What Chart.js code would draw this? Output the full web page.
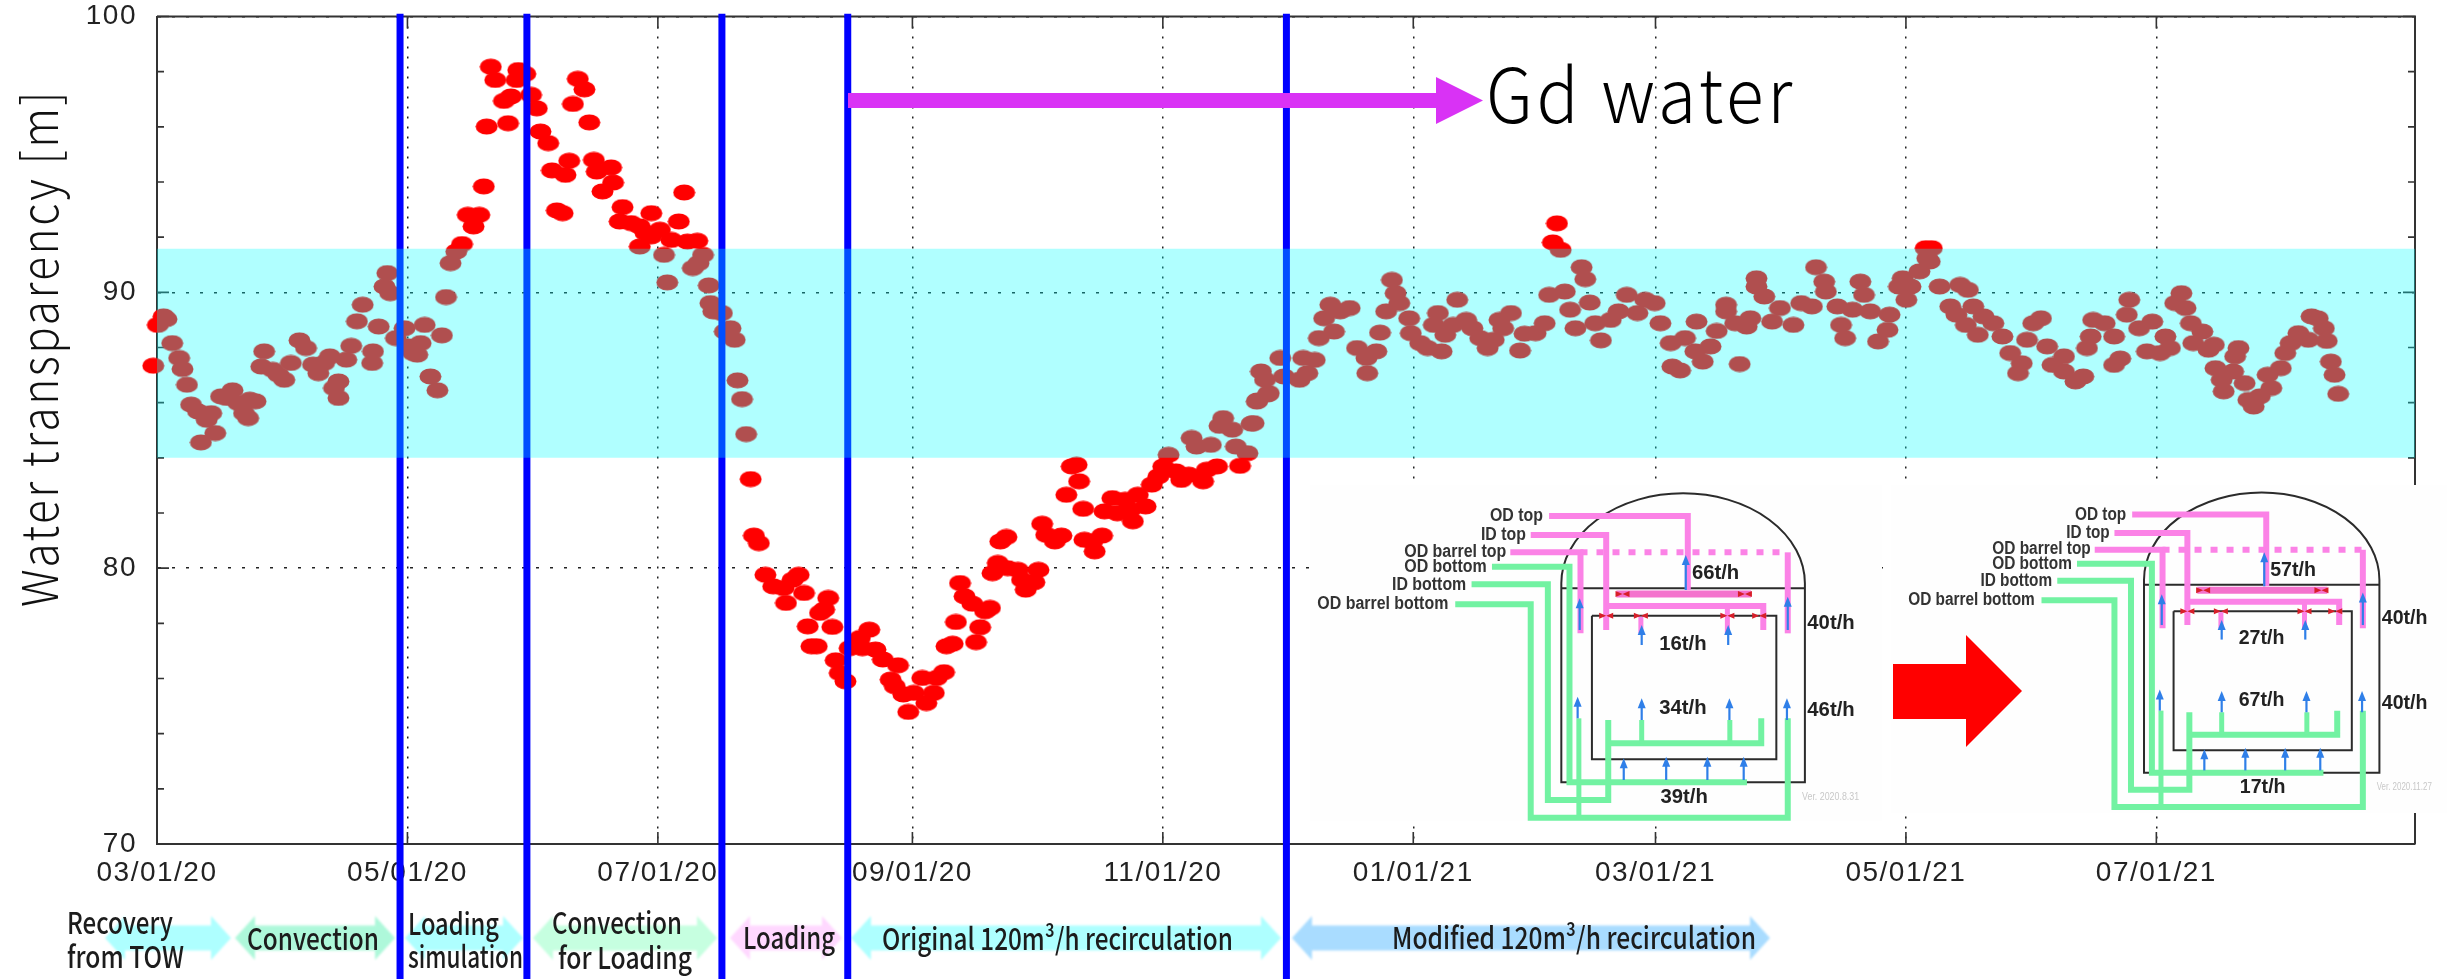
<!DOCTYPE html>
<html><head><meta charset="utf-8">
<style>html,body{margin:0;padding:0;background:#fff}canvas{display:block}</style>
<script src="https://cdn.jsdelivr.net/npm/chart.js@4/dist/chart.umd.js"></script>
</head><body><canvas id="c" width="2455" height="979"></canvas>
<script>
// days since 03/01/20 and water transparency [m]
const days = [-0.9,0.2,1.6,2.3,3.7,5.4,6.2,7.3,8.3,10,12.1,13.2,14.2,10.7,15.6,17,18.4,19.8,21.2,22.6,22.2,24,26.1,25.4,28.2,29.6,31,32.6,34.7,36.3,38,39.3,40.7,42.1,44.2,43.1,44.2,46.1,47.3,48.7,50.1,52.4,52.6,54,55.4,56.1,56.8,58.2,60.3,61.3,62.4,63.4,64.2,65.2,66.6,68.3,69.4,70.4,71.5,72.9,74.3,77.1,75.7,78.5,79.6,80.3,81.3,82.4,84.5,85.5,86.2,87.6,88,89.7,91.1,92.5,93.4,95.3,96.2,97.4,98.8,99.5,100.4,101.3,102.5,104.1,105.3,106.4,107.1,108.5,110.6,111.1,112.7,113.4,115.5,117.6,117.6,119,120.4,120.4,122.5,123.5,124.3,125.3,127.1,128.4,129.2,130.5,131.6,131.9,133,134.4,134.8,135.5,137.6,138.3,139.7,140.7,141.4,142.5,143.5,144.6,
145.4,146.6,148.2,150.1,152.6,153.2,154.8,156.3,157.6,158.5,159.4,160.7,161.5,163.5,162.5,164.5,165.3,166.3,167.7,168.7,171.2,173.5,171.8,175,176.8,180.5,178.7,179.7,181.8,183,184.3,186.4,187.4,189.2,189.9,191.7,192.3,193.8,194.6,199.5,200.5,195.6,196.7,198.6,201.7,202.9,203.5,204.8,207.2,209.7,210.7,211.6,213.7,214.7,205.4,206.9,215.6,216.6,218.7,220.3,221.5,225.6,222.8,224,224.6,225.9,228.4,227.8,230.2,230.8,232.7,233.9,235.8,237.1,237.7,238.9,240.8,242.3,243.9,245.1,246.4,248.2,249.5,251.3,254.8,255.7,258.2,263.8,252,253.2,256.7,259.7,258.8,261.9,262.8,265.6,266.6,267.9,270.6,
267.1,268,270.8,268.9,269.9,273.6,274.5,278.3,280.2,279.2,282,283,286.7,284.3,285.8,288.2,290.5,292.3,294.6,297,294.8,297.9,299.4,300.8,301.7,302.6,305,305.4,307.7,309.5,312.9,311,312,313.8,316.7,315.7,318.9,320.4,322.3,324.1,325.6,327,329.8,327.9,332,333.1,335.8,338,339.1,342.9,341,340,341.9,347,347.9,344.2,345.5,349,350.3,351.7,354.1,356,358,360.6,362.5,364.8,366.2,368.7,372.2,369.1,371,375,374.7,376.5,378.4,379.9,382.2,382.2,384.4,385.5,387.2,388.1,389.6,389.6,391.5,393.4,395.3,398.6,400.5,403.1,404.1,406.1,406.5,409.3,410.2,411.2,413,414.9,415.8,417.3,419.2,421.5,422,424.3,425.2,426.1,427.1,429.3,430.8,432.3,431.2,431.8,434.2,439.2,441.1,436.8,438.3,440.6,442.4,443.5,444.9,447.3,449.5,455.5,457,458.9,451.4,454.2,453.3,460.4,461.7,464.5,464.5,467.3,469.2,470.1,471,471.6,474.4,476.7,476.7,478.2,479.8,480.4,482.8,484.7,486,487.9,489.2,490.3,491.6,493.1,494.1,495.4,496,498.2,499.7,501,501.4,502.9,503.4,505.7,508.5,507,506.2,509.4,510.7,512.2,515,514.1,517.3,518.4,519.7,521.6,524,524.8,526.3,527.8,528.5,529.5,530.4,531.3];
const meters = [87.34,88.82,89.13,89.03,88.16,87.62,87.22,86.65,85.93,85.68,85.38,85.62,84.9,84.56,86.23,86.17,86.45,85.99,85.62,86.11,85.44,86.05,87.86,87.31,87.19,87.01,86.83,87.44,88.26,87.98,87.38,87.07,87.44,87.68,86.77,86.53,86.17,87.56,88.06,88.95,89.55,87.44,87.86,88.76,90.21,90.7,89.97,88.34,88.7,88.04,87.8,87.74,88.16,88.82,86.95,86.45,88.44,89.83,91.06,91.48,91.75,92.39,92.81,92.81,93.84,96.01,98.18,97.7,96.94,96.13,97.1,97.7,98.06,97.92,97.16,96.67,95.83,95.41,94.42,92.97,92.87,94.26,94.77,96.83,97.74,97.36,96.16,94.8,94.38,93.66,94.53,93.98,92.57,93.09,92.51,92.39,91.66,92.15,92.87,92.03,92.27,91.36,90.36,91.9,92.57,93.62,91.84,90.88,91.87,91.06,91.36,90.25,89.61,89.31,89.25,88.58,88.7,88.28,86.81,86.13,84.86,83.23,
81.18,80.91,79.76,79.34,79.28,78.74,79.58,79.76,79.1,77.89,77.17,77.17,78.38,78.92,78.5,77.87,76.66,76.2,75.9,77.1,77.47,77.77,77.1,77.05,76.69,76.48,75.96,75.72,75.42,74.79,75.48,76.02,75.11,75.48,76.02,76.23,77.17,77.26,78.05,77.32,77.86,79.46,78.98,78.71,78.44,78.56,79.82,80.19,80,79.94,79.58,79.22,79.49,79.94,80.97,81.13,81.61,81.21,80.97,81.18,82.66,82.15,83.69,83.75,83.15,81.03,80.61,80.97,81.18,82.06,82.54,81.99,82.48,82.12,81.7,82.66,82.24,83.03,83.33,83.69,84.11,83.51,83.2,83.39,83.15,83.57,83.69,83.71,84.72,84.41,84.47,85.44,85.16,85.02,84.41,84.17,85.24,86.04,86.3,
85.26,86.08,86.35,87.13,86.83,87.62,86.95,86.83,87.07,87.62,87.55,88.34,88.58,89.06,89.55,89.31,89.43,87.98,87.62,87.86,87.07,88.54,89.31,90.45,89.97,89.61,89.06,88.52,88.16,87.98,87.86,88.82,89.25,88.46,89.73,88.82,89,88.7,88.34,87.98,88.28,89,89.25,88.7,87.89,88.5,88.52,88.88,89.91,90.03,92.5,91.81,91.54,90.91,90.48,89.37,88.7,89.63,88.88,88.26,89,89.31,89.91,89.25,89.73,89.61,88.88,88.16,88.34,87.31,87.17,88.94,87.86,87.49,88.04,88.6,89.55,89.31,88.88,87.4,88.76,89.06,90.51,90.21,89.85,88.94,89.43,88.82,89.61,89.49,90.91,90.39,90.03,89.49,88.82,88.34,89.37,90.39,89.91,89.31,88.22,88.64,89.19,90.21,90.51,89.73,90.21,90.76,91.6,91.6,91.24,91.12,90.21,90.27,90.09,89.49,89.19,88.82,89.49,88.46,89.13,88.88,88.4,88.28,88.88,89.06,87.8,87.43,87.07,88.04,87.37,87.68,87.13,86.77,86.95,87.98,88.4,89,88.88,88.4,87.37,87.6,89.19,89.73,88.7,87.86,88.94,87.8,88.4,87.98,89.61,89.97,89.43,88.88,88.16,88.58,87.92,88.1,87.25,86.83,86.41,87.13,86.71,87.98,87.68,86.1,85.86,86.23,86.53,87.01,87.25,87.8,88.16,88.52,88.28,89.13,89.06,88.7,88.24,87.49,87.01,86.32];
const xTickDays = [0,61,122,184,245,306,365,426,487];
const xTickLabels = ['03/01/20','05/01/20','07/01/20','09/01/20','11/01/20','01/01/21','03/01/21','05/01/21','07/01/21'];
const phaseChangeDays = [59.2,90.1,137.6,168.25,275.1];
const bandTop = 91.58, bandBottom = 84.0;
const xMax = 550, yMin = 70, yMax = 100, yStep = 2;
const phaseLineBottom = 65.1, phaseLineTop = 100.1;
const ySeriesLabel = 'Water transparency [m]';
const gdLabel = 'Gd water';
const rates1 = ['66t/h','40t/h','16t/h','34t/h','46t/h','39t/h'];
const rates2 = ['57t/h','40t/h','27t/h','67t/h','40t/h','17t/h'];

const JP = '"Noto Sans CJK JP"', LS = '"Liberation Sans"';

function fit(ctx, str, x, y, w, font, color, baseline, spacing){
  ctx.save();
  ctx.font = font; ctx.fillStyle = color; ctx.textAlign = 'left';
  ctx.textBaseline = baseline || 'middle';
  if (spacing) ctx.letterSpacing = spacing;
  const m = ctx.measureText(str).width;
  ctx.translate(x, y); ctx.scale(w / m, 1);
  ctx.fillText(str, 0, 0);
  ctx.restore();
}
function poly(ctx, pts, color){
  ctx.beginPath(); pts.forEach((p,i)=> i?ctx.lineTo(p[0],p[1]):ctx.moveTo(p[0],p[1]));
  ctx.closePath(); ctx.fillStyle = color; ctx.fill();
}
function dblArrow(ctx, x0, x1, cy, color){
  const s = 12.5, h = 22, l = 20;
  poly(ctx, [[x0,cy],[x0+l,cy-h],[x0+l,cy-s],[x1-l,cy-s],[x1-l,cy-h],[x1,cy],[x1-l,cy+h],[x1-l,cy+s],[x0+l,cy+s],[x0+l,cy+h]], color);
}
const phases = [
 {a:[105,231], c:'#aeffff', t:[['Recovery',67,106,923],['from TOW',67,117,957]]},
 {a:[235,395], c:'#aef8da', t:[['Convection',247,132,939]]},
 {a:[405,523], c:'#aeffff', t:[['Loading',408,91,924],['simulation',408,115,957]]},
 {a:[533,717], c:'#c6ffe0', t:[['Convection',552,130,923],['for Loading',558,134,958]]},
 {a:[730,842], c:'#ffd8ff', t:[['Loading',743,92,938]]},
 {a:[851,1281], c:'#aeffff', t:[['Original 120m³/h recirculation',882,351,939]]},
 {a:[1292,1770], c:'#a9dcff', t:[['Modified 120m³/h recirculation',1392,364,938]]}
];
function drawInset(ctx, ox, oy, sx, sy, rates, ver, bg){
  ctx.save();
  ctx.fillStyle = '#fefefe'; ctx.fillRect(bg[0],bg[1],bg[2],bg[3]);
  ctx.filter = 'blur(0.7px)';
  const X = x => ox + x*sx, Y = y => oy + y*sy;
  const path = (pts, color, w, dash) => {
    ctx.beginPath(); pts.forEach((p,i)=> i?ctx.lineTo(X(p[0]),Y(p[1])):ctx.moveTo(X(p[0]),Y(p[1])));
    ctx.strokeStyle = color; ctx.lineWidth = w; ctx.lineJoin = 'miter'; ctx.setLineDash(dash||[]); ctx.stroke(); ctx.setLineDash([]);
  };
  const K = '#2b2b2b', G = '#72f2a2', P = '#fb82e6';
  // vessel
  ctx.beginPath(); ctx.moveTo(X(665),Y(937)); ctx.lineTo(X(665),Y(340));
  ctx.ellipse(X(963.5),Y(340),298.5*sx,270*sy,0,Math.PI,2*Math.PI);
  ctx.lineTo(X(1262),Y(937)); ctx.closePath(); ctx.strokeStyle=K; ctx.lineWidth=2; ctx.stroke();
  path([[665,355],[1262,355]],K,2);
  path([[740,437],[1192,437],[1192,868],[740,868],[740,437]],K,2);
  // green pipes
  const gw = 6;
  path([[495,290],[685,290],[685,937],[1120,937]],G,gw);
  path([[445,343],[632,343],[632,990],[780,990],[780,750]],G,gw);
  path([[780,820],[1155,820],[1155,745]],G,gw);
  path([[862,820],[862,750]],G,gw-1); path([[1078,820],[1078,750]],G,gw-1);
  path([[405,403],[590,403],[590,1043],[1220,1043],[1220,745]],G,gw);
  path([[708,1043],[708,745]],G,gw-1);
  // pink pipes
  path([[635,138],[975,138],[975,360]],P,gw);
  path([[800,372],[1130,372]],'#f473cd',7);
  path([[590,195],[775,195],[775,480]],P,gw);
  path([[775,408],[1160,408],[1160,480]],P,gw);
  path([[860,440],[860,490]],P,gw-1); path([[1072,410],[1072,490]],P,gw-1);
  path([[540,247],[712,247],[712,490]],P,gw);
  path([[712,247],[1220,247]],P,gw,[7,9]);
  path([[1220,247],[1220,490]],P,gw);
  // blue arrows
  const up = (x,y0,y1)=>{ path([[x,y0],[x,y1]],'#2f7fe8',2.2);
    poly(ctx,[[X(x),Y(y1)-5],[X(x)-4,Y(y1)+5],[X(x)+4,Y(y1)+5]],'#2f7fe8'); };
  [[970,360,270],[710,480,400],[1220,480,395],[862,525,480],[1074,525,480],[705,745,695],[862,750,700],[1077,750,700],[1218,750,700],[818,930,880],[922,930,875],[1023,930,875],[1112,930,875]].forEach(a=>up(a[0],a[1],a[2]));
  // red valves
  [[815,372],[1115,372],[775,437],[860,437],[1072,437],[1150,437]].forEach(v=>{
    const x=X(v[0]), y=Y(v[1]);
    poly(ctx,[[x-7,y-3],[x,y],[x-7,y+3]],'#d81f2a'); poly(ctx,[[x+7,y-3],[x,y],[x+7,y+3]],'#d81f2a');
  });
  const labF = 'bold 18px '+LS, c='#333';
  [['OD top',490,620,138],['ID top',468,578,195],['OD barrel top',280,530,245],['OD bottom',280,482,292],['ID bottom',250,432,345],['OD barrel bottom',67,388,402]]
   .forEach(t=>fit(ctx,t[0],X(t[1]),Y(t[3]),(t[2]-t[1])*sx,labF,c));
  const rf = 'bold 20px '+LS, K2='#222';
  [[985,310],[1268,460],[905,522],[905,715],[1268,722],[908,983]].forEach((p,i)=>
     fit(ctx,rates[i],X(p[0]),Y(p[1]),116*sx,rf,K2));
  fit(ctx,ver,X(1255),Y(981),140*sx,'11px '+LS,'#c8c8c8');
  ctx.restore();
}

const framePlugin = {
  id:'frame',
  beforeDraw(chart){ chart.ctx.letterSpacing = '1.5px'; },
  beforeDatasetsDraw(chart){
    const ctx = chart.ctx, a = chart.chartArea, xs = chart.scales.x, ys = chart.scales.y;
    ctx.letterSpacing = '0px';
    ctx.save();
    // frame (top and right) and inward tick marks
    ctx.strokeStyle = '#333'; ctx.lineWidth = 2;
    ctx.beginPath(); ctx.moveTo(a.left,a.top); ctx.lineTo(a.right,a.top); ctx.lineTo(a.right,a.bottom); ctx.stroke();
    ctx.lineWidth = 1.6; ctx.beginPath();
    ys.ticks.forEach(t=>{ const y = ys.getPixelForValue(t.value), l = t.value%10===0?12:7;
      ctx.moveTo(a.left,y); ctx.lineTo(a.left+l,y); ctx.moveTo(a.right,y); ctx.lineTo(a.right-l,y); });
    xs.ticks.forEach(t=>{ const x = xs.getPixelForValue(t.value);
      ctx.moveTo(x,a.bottom); ctx.lineTo(x,a.bottom-12); ctx.moveTo(x,a.top); ctx.lineTo(x,a.top+12); });
    ctx.stroke();
    ctx.restore();
    // insets
    drawInset(ctx,1290,470,0.408,1/3,rates1,'Ver. 2020.8.31',[1310,485,572,336]);
    drawInset(ctx,1881.8,470,0.3943,0.323,rates2,'Ver. 2020.11.27',[1891,485,556,328]);
    // big red block arrow
    poly(ctx,[[1893,664],[1966,664],[1966,635],[2022,691],[1966,747],[1966,719],[1893,719]],'#ff0000');
    // phase arrows under the axis
    ctx.save(); ctx.filter='blur(1px)';
    phases.forEach(p=>dblArrow(ctx,p.a[0],p.a[1],938,p.c));
    ctx.restore();
    ctx.save(); ctx.filter='blur(0.4px)';
    phases.forEach(p=>p.t.forEach(t=>fit(ctx,t[0],t[1],t[3],t[2],'500 30px '+JP,'#1c1c1c')));
    ctx.restore();
    // y axis title
    ctx.save(); ctx.translate(58,607); ctx.rotate(-Math.PI/2);
    fit(ctx,ySeriesLabel,0,0,518,'300 50px '+JP,'#111','alphabetic','3px');
    ctx.restore();
  },
  afterDatasetsDraw(chart){
    const ctx = chart.ctx;
    poly(ctx,[[848,93],[1436,93],[1436,77],[1483,100.5],[1436,124],[1436,108],[848,108]],'#d932f5');
    fit(ctx,gdLabel,1486,123,310,'300 75px '+JP,'#000','alphabetic','4px');
  }
};

const dot = document.createElement('canvas'); dot.width = 23; dot.height = 17;
{ const d = dot.getContext('2d'); d.fillStyle='#ff0000'; d.beginPath(); d.ellipse(11.5,8.5,11,8,0,0,2*Math.PI); d.fill(); }

const datasets = [
  { label:'band', data:[{x:0,y:bandTop},{x:xMax,y:bandTop}], showLine:true, borderWidth:0, pointRadius:0,
    fill:{value:bandBottom}, backgroundColor:'rgba(0,255,255,0.31)', order:0 },
  ...phaseChangeDays.map(d=>({ label:'phase', data:[{x:d,y:phaseLineTop},{x:d,y:phaseLineBottom}], showLine:true,
    borderColor:'#0000ff', borderWidth:7, pointRadius:0, clip:false, order:1, fill:false })),
  { label:'Water transparency', data:days.map((d,i)=>({x:d,y:meters[i]})), pointStyle:dot, pointRadius:8, showLine:false, clip:false, order:2 }
];

new Chart(document.getElementById('c'),{
  type:'scatter',
  data:{datasets},
  plugins:[framePlugin],
  options:{
    responsive:false, animation:false, devicePixelRatio:1,
    layout:{padding:{left:0,right:40,top:16.5,bottom:0}},
    plugins:{legend:{display:false},tooltip:{enabled:false},title:{display:false}},
    scales:{
      x:{type:'linear',min:0,max:xMax,
        afterBuildTicks(s){ s.ticks = xTickDays.map(v=>({value:v})); },
        afterFit(s){ s.height = 135; s.paddingLeft = 0; s.paddingRight = 0; s.paddingTop = 0; s.paddingBottom = 0; },
        border:{display:true,color:'#333',width:2,dash:[2,8]},
        grid:{color:'#222',lineWidth:1.5,drawTicks:false},
        ticks:{autoSkip:false,maxRotation:0,minRotation:0,padding:12,color:'#222',font:{family:LS.replace(/"/g,''),size:28},
          callback(v){ const i = xTickDays.indexOf(v); return i<0?'':xTickLabels[i]; }}
      },
      y:{type:'linear',min:yMin,max:yMax,
        afterFit(s){ s.width = 157; s.paddingTop = 0; s.paddingBottom = 0; s.paddingLeft = 0; s.paddingRight = 0; },
        border:{display:true,color:'#333',width:2,dash:[3,11]},
        grid:{color:c=>c.tick && c.tick.value%10===0?'#222':'rgba(0,0,0,0)',lineWidth:1.5,drawTicks:false},
        ticks:{stepSize:yStep,autoSkip:false,padding:20,color:'#222',font:{family:LS.replace(/"/g,''),size:28},
          callback(v){ return v%10===0?String(v):''; }}
      }
    }
  }
});
</script></body></html>
